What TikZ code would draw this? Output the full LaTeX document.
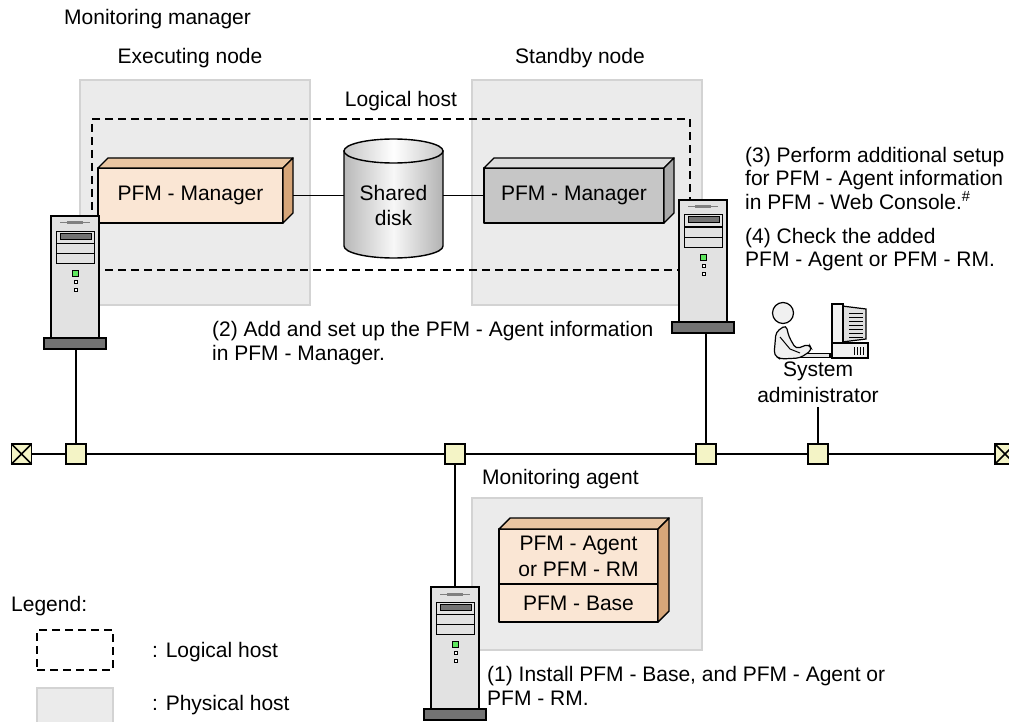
\documentclass[tikz,border=0pt]{standalone}
\usepackage{fontspec}
\setmainfont{Liberation Sans}
\usetikzlibrary{calc}
\definecolor{physgray}{HTML}{EBEBEB}
\definecolor{physedge}{HTML}{D3D3D3}
\definecolor{peachF}{HTML}{FAE6D4}
\definecolor{peachT}{HTML}{EAC6A2}
\definecolor{peachS}{HTML}{D7A679}
\definecolor{grayF}{HTML}{C6C6C6}
\definecolor{grayT}{HTML}{DCDCDC}
\definecolor{grayS}{HTML}{A9A9A9}
\definecolor{juncfill}{HTML}{F4F4C6}
\definecolor{srvbody}{HTML}{E2E2E2}
\definecolor{srvdark}{HTML}{737373}
\definecolor{ledgreen}{HTML}{5EE65E}
\begin{document}
\begin{tikzpicture}[x=1pt,y=-1pt,
  lbl/.style={font=\fontsize{21}{24}\selectfont, inner sep=0, anchor=base west},
  para/.style={font=\fontsize{21}{23.5}\selectfont, inner sep=0, anchor=north west, align=left},
  boxtxt/.style={font=\fontsize{21}{25.5}\selectfont, align=center},
  phys/.style={fill=physgray, draw=physedge, line width=1.2, inner sep=0},
  logi/.style={draw, dash pattern=on 8pt off 5pt, line width=1.5, inner sep=0},
  face/.style={draw, line width=1.4, line join=round},
  boxfront/.style={face, inner sep=0, outer sep=0},
  junc/.style={draw, line width=1.5, fill=juncfill, minimum size=20, inner sep=0, outer sep=0},
  wire/.style={line width=1.5},
  server/.pic={
    \node[draw, line width=1.4, fill=srvbody, minimum width=48, minimum height=122, inner sep=0, outer sep=0] (-body) at (24,61) {};
    \node[draw, line width=1.4, fill=srvdark, minimum width=62, minimum height=11, inner sep=0, outer sep=0] (-base) at (24,127.5) {};
    \draw[gray, line width=1] (9,7) -- (39,7);
    \draw[gray, line width=3] (16,7) -- (32,7);
    \draw[line width=1] (5,15) rectangle (43,47);
    \draw[line width=1] (5,27) -- (43,27) (5,37) -- (43,37);
    \draw[line width=1, fill=srvdark] (9,17) rectangle (40,23);
    \draw[line width=1, fill=ledgreen] (21.5,54) rectangle (27.5,60);
    \draw[line width=1, fill=white] (23,64.5) rectangle (26,67.5);
    \draw[line width=1, fill=white] (23,72.5) rectangle (26,75.5);
  }
]
\useasboundingbox (0,0) rectangle (1009,722);

% physical hosts
\node[phys, minimum width=230, minimum height=225] (hostExe) at (195,192.5) {};
\node[phys, minimum width=230, minimum height=225] (hostSby) at (587,192.5) {};
\node[phys, minimum width=230, minimum height=152] (hostAgt) at (587,574) {};

% logical host
\node[logi, minimum width=598, minimum height=151] (lhost) at (391,194.5) {};

% titles
\node[lbl] (mm) at (64,25) {Monitoring manager};
\node[lbl, anchor=base] (exn) at (190,64) {Executing node};
\node[lbl, anchor=base] (sbn) at (580,64) {Standby node};
\node[lbl, anchor=base] (lh) at (401,107) {Logical host};
\node[lbl] (ma) at (482,484) {Monitoring agent};

% shared disk
\path[shading=axis, left color=gray!55, right color=gray!60, middle color=gray!6, draw, line width=1.4]
  (344,151) -- (344,246) arc[start angle=180, end angle=360, x radius=49.5pt, y radius=12pt] -- (443,151) -- cycle;
\path[shading=axis, left color=gray!45, right color=gray!45, middle color=white, draw, line width=1.4]
  (393.5,151) ellipse[x radius=49.5pt, y radius=12pt];
\node[boxtxt, minimum width=99, inner sep=0] (disk) at (393.5,205.3) {Shared\\disk};

% PFM - Manager on the executing node
\node[boxfront, fill=peachF, minimum width=185, minimum height=55, font=\fontsize{21}{24}\selectfont] (mgrL) at (190.5,195.5) {PFM - Manager};
\filldraw[face, fill=peachT] (mgrL.north west) -- ++(10,-10) -- ([shift={(10,-10)}]mgrL.north east) -- (mgrL.north east) -- cycle;
\filldraw[face, fill=peachS] (mgrL.north east) -- ++(10,-10) -- ([shift={(10,-10)}]mgrL.south east) -- (mgrL.south east) -- cycle;

% PFM - Manager on the standby node
\node[boxfront, fill=grayF, minimum width=180, minimum height=55, font=\fontsize{21}{24}\selectfont] (mgrR) at (574,195.5) {PFM - Manager};
\filldraw[face, fill=grayT] (mgrR.north west) -- ++(10,-10) -- ([shift={(10,-10)}]mgrR.north east) -- (mgrR.north east) -- cycle;
\filldraw[face, fill=grayS] (mgrR.north east) -- ++(10,-10) -- ([shift={(10,-10)}]mgrR.south east) -- (mgrR.south east) -- cycle;

% disk connections
\draw[wire] ([xshift=10pt]mgrL.east) -- (mgrL.east -| disk.west);
\draw[wire] (disk.east |- mgrR.west) -- (mgrR.west);

% monitoring agent stack
\node[boxfront, fill=peachF, minimum width=159, minimum height=55, boxtxt] (agt) at (578.5,556.5) {PFM - Agent\\or PFM - RM};
\node[boxfront, fill=peachF, minimum width=159, minimum height=38, font=\fontsize{21}{24}\selectfont] (base) at (578.5,603) {PFM - Base};
\filldraw[face, fill=peachT] (agt.north west) -- ++(11,-11) -- ([shift={(11,-11)}]agt.north east) -- (agt.north east) -- cycle;
\filldraw[face, fill=peachS] (agt.north east) -- ++(11,-11) -- ([shift={(11,-11)}]base.south east) -- (base.south east) -- cycle;

% servers
\pic (srvL) at (51,216) {server};
\pic (srvR) at (679,200) {server};
\pic (srvA) at (431,587) {server};

% system administrator
\draw[line width=1.2, fill=gray!20] (800,353.5) rectangle (830,357.5);
\draw[line width=1.2, fill=gray!12, rounded corners=4] (786,325) -- (776,332) -- (774,355) -- (780,359) -- (800,358) -- (812,350) -- (809,344) -- (796,349) -- (789,337) -- cycle;
\draw[line width=1] (780,337) -- (790,349) -- (800,353);
\draw[line width=1.2, fill=gray!12] (783,313) circle[radius=10.5pt];
\draw[line width=1.2, fill=gray!25] (842,306) -- (866,309) -- (866,339) -- (842,342) -- cycle;
\foreach \v in {313,317,...,337} \draw[line width=0.8] (849,\v) -- (863,\v);
\draw[line width=1.2, fill=gray!10] (832,304) rectangle (843,343);
\draw[line width=1.2, fill=gray!12] (832,343) rectangle (868,358);
\foreach \u in {854,857,...,865} \draw[line width=0.8] (\u,347) -- (\u,355);
\node[font=\fontsize{21}{26}\selectfont, align=center, inner sep=0, anchor=north] (admin) at (818,361.4) {System\\administrator};

% network
\node[junc] (tL) at (21.5,454) {};
\node[junc] (j1) at (76,454) {};
\node[junc] (j2) at (455,454) {};
\node[junc] (j3) at (706,454) {};
\node[junc] (j4) at (818,454) {};
\node[junc] (tR) at (1005,454) {};
\draw[line width=1.5] (tL.north west) -- (tL.south east) (tL.north east) -- (tL.south west);
\draw[line width=1.5] (tR.north west) -- (tR.south east) (tR.north east) -- (tR.south west);
\draw[wire] (tL) -- (j1) -- (j2) -- (j3) -- (j4) -- (tR);
\draw[wire] (j1) -- (j1 |- srvL-base.south);
\draw[wire] (j2) -- (j2 |- srvA-body.north);
\draw[wire] (j3) -- (j3 |- srvR-base.south);
\draw[wire] (j4) -- (j4 |- 0,407);

% steps
\node[para] (s3) at (745,146.7) {(3) Perform additional setup\\for PFM - Agent information\\in PFM - Web Console.\textsuperscript{\#}};
\node[para] (s4) at (745,227.7) {(4) Check the added\\PFM - Agent or PFM - RM.};
\node[para, font=\fontsize{21}{24}\selectfont] (s2) at (212,320.7) {(2) Add and set up the PFM - Agent information\\in PFM - Manager.};
\node[para, font=\fontsize{21}{24}\selectfont] (s1) at (487,665.7) {(1) Install PFM - Base, and PFM - Agent or\\PFM - RM.};

% legend
\node[lbl] (leg) at (11,611) {Legend:};
\node[logi, minimum width=76, minimum height=40] (legLog) at (75,650) {};
\node[phys, minimum width=76, minimum height=42] (legPhys) at (75,709) {};
\node[lbl] (legLogT) at (152,657) {: Logical host};
\node[lbl] (legPhysT) at (152,710) {: Physical host};
\end{tikzpicture}
\end{document}
